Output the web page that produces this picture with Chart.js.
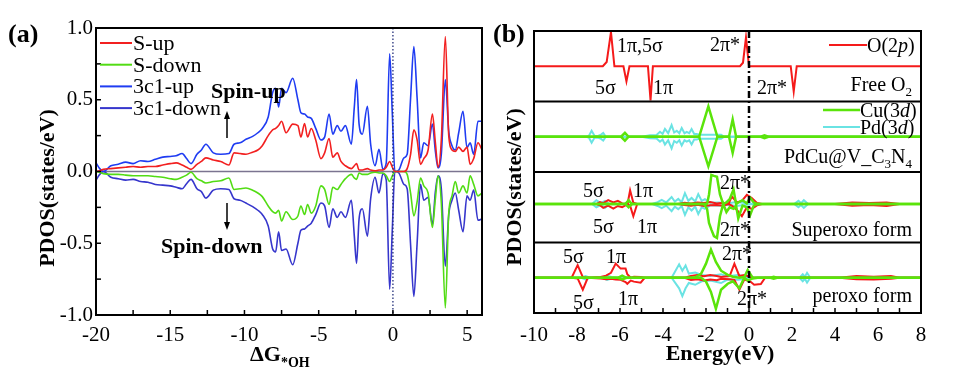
<!DOCTYPE html>
<html>
<head>
<meta charset="utf-8">
<script src="https://cdn.jsdelivr.net/npm/chart.js@4.4.0/dist/chart.umd.min.js"></script>
<style>
  body { margin: 0; background: #fff; }
  #wrap { position: relative; width: 958px; height: 367px; }
  canvas { position: absolute; top: 0; }
</style>
</head>
<body>
<div id="wrap">
  <canvas id="chartA" width="484" height="367" style="left:0"></canvas>
  <canvas id="chartB" width="478" height="367" style="left:480px"></canvas>
</div>
<script>
// ---------- panel (a): PDOS vs energy, four channels ----------
var gridA = [-20, -19.75, -19.5, -19, -18.5, -18, -17.5, -17, -16.5, -16,
  -15.5, -15, -14.6, -14.2, -13.9, -13.6, -13.2, -12.9, -12.6, -12.1,
  -11.6, -11.05, -10.7, -10.3, -9.9, -9.45, -9.1, -8.8, -8.4, -8.1,
  -7.9, -7.7, -7.5, -7.2, -6.75, -6.4, -6.2, -5.95, -5.75, -5.5,
  -5.2, -4.85, -4.6, -4.3, -4.05, -3.75, -3.5, -3.2, -2.8, -2.6,
  -2.45, -2.28, -2.06, -1.72, -1.5, -1.2, -0.94, -0.67, -0.45, -0.22,
  -0.04, 0.13, 0.4, 0.74, 0.96, 1.19, 1.41, 1.63, 1.86, 2.08,
  2.37, 2.66, 2.86, 3.04, 3.26, 3.53, 3.76, 3.98, 4.2, 4.43,
  4.72, 4.99, 5.2, 5.44, 5.73, 6];
var sUp = [0, 0.005, 0.015, 0.02, 0.025, 0.03, 0.035, 0.03, 0.035, 0.035,
  0.045, 0.055, 0.06, 0.045, 0.03, 0.015, 0.05, 0.07, 0.095, 0.08,
  0.07, 0.045, 0.13, 0.125, 0.12, 0.135, 0.15, 0.18, 0.25, 0.29,
  0.3, 0.32, 0.35, 0.27, 0.33, 0.32, 0.24, 0.335, 0.24, 0.3,
  0.22, 0.09, 0.13, 0.23, 0.1, 0.13, 0.07, 0.04, 0.02, 0.04,
  0.055, 0.01, 0.01, 0.02, 0.01, 0.005, 0.01, 0.01, 0.03, 0.07,
  0.03, 0, 0, 0, 0.02, 0.12, 0.29, 0.22, 0.05, 0.09,
  0.15, 0.4, 0.2, 0.03, 0.22, 0.94, 0.25, 0.15, 0.14, 0.17,
  0.14, 0.17, 0.05, 0.09, 0.2, 0.15];
var sDown = [0, -0.005, -0.015, -0.02, -0.02, -0.025, -0.03, -0.03, -0.03, -0.035,
  -0.04, -0.05, -0.055, -0.04, -0.025, -0.005, -0.05, -0.065, -0.08, -0.07,
  -0.065, -0.045, -0.125, -0.12, -0.115, -0.13, -0.15, -0.175, -0.24, -0.28,
  -0.29, -0.27, -0.345, -0.28, -0.335, -0.31, -0.24, -0.3, -0.23, -0.29,
  -0.24, -0.1, -0.125, -0.23, -0.11, -0.125, -0.09, -0.05, -0.02, -0.045,
  -0.055, -0.01, -0.02, -0.02, -0.01, -0.005, -0.01, -0.01, -0.03, -0.07,
  -0.03, 0, 0, 0, -0.02, -0.15, -0.31, -0.21, -0.045, -0.1,
  -0.15, -0.39, -0.19, -0.03, -0.22, -0.95, -0.29, -0.17, -0.07, -0.15,
  -0.1, -0.15, -0.03, -0.09, -0.17, -0.15];
var c1Up = [0.06, 0.02, 0, 0.04, 0.05, 0.065, 0.055, 0.075, 0.07, 0.085,
  0.1, 0.105, 0.11, 0.125, 0.09, 0.055, 0.12, 0.15, 0.19, 0.13,
  0.12, 0.125, 0.19, 0.2, 0.225, 0.245, 0.27, 0.3, 0.38, 0.55,
  0.58, 0.45, 0.58, 0.55, 0.65, 0.5, 0.41, 0.4, 0.38, 0.37,
  0.3, 0.22, 0.24, 0.4, 0.26, 0.32, 0.28, 0.32, 0.19, 0.45,
  0.64, 0.33, 0.26, 0.455, 0.19, 0.04, 0.155, 0.015, 0.06, 0.82,
  0.4, 0, 0.01, 0.095, 0.12, 0.51, 0.87, 0.51, 0.095, 0.2,
  0.18, 0.33, 0.14, 0.025, 0.12, 0.64, 0.28, 0.18, 0.15, 0.27,
  0.42, 0.165, 0.2, 0.12, 0.35, 0.35];
var c1Down = [-0.06, -0.02, 0, -0.04, -0.05, -0.06, -0.055, -0.07, -0.075, -0.09,
  -0.095, -0.1, -0.11, -0.12, -0.085, -0.055, -0.12, -0.14, -0.185, -0.13,
  -0.12, -0.125, -0.19, -0.2, -0.22, -0.245, -0.27, -0.3, -0.38, -0.54,
  -0.56, -0.42, -0.55, -0.54, -0.65, -0.5, -0.41, -0.4, -0.38, -0.36,
  -0.3, -0.22, -0.24, -0.39, -0.26, -0.32, -0.28, -0.32, -0.2, -0.45,
  -0.64, -0.33, -0.26, -0.45, -0.19, -0.04, -0.15, -0.015, -0.06, -0.82,
  -0.4, 0, -0.01, -0.09, -0.12, -0.51, -0.87, -0.5, -0.09, -0.2,
  -0.18, -0.37, -0.14, -0.03, -0.12, -0.66, -0.3, -0.2, -0.15, -0.27,
  -0.42, -0.17, -0.2, -0.13, -0.34, -0.33];
var labelsAx = [-20, -15, -10, -5, 0, 5];
var labelsAy = [-1, -0.5, 0, 0.5, 1];

// ---------- panel (b): O / Cu / Pd projected DOS, four stacked cases ----------
// free O2
var freeE = [-10, -6.8, -6.62, -6.42, -6.26, -5.84, -5.7, -5.56, -4.7, -4.58, -4.47, -0.42, -0.28, -0.14, 0.0, 1.94, 2.08, 2.22, 8];
var freeO = [0, 0, 0.12, 0.97, 0, 0, -0.43, 0, 0, -0.97, 0, 0, 0.1, 0.82, 0, 0, -0.72, 0, 0];
// PdCu@V_C3N4
var pureCuE = [-10, -5.95, -5.77, -5.6, -2.32, -1.89, -1.47, -0.93, -0.76, -0.6, 0.55, 0.72, 0.9, 8];
var pureCuUp = [0, 0, 0.11, 0, 0, 0.86, 0, 0, 0.49, 0, 0, 0.04, 0, 0];
var pureCuDn = [0, 0, -0.11, 0, 0, -0.84, 0, 0, -0.46, 0, 0, -0.04, 0, 0];
var purePdE = [-10, -7.6, -7.45, -7.32, -7.18, -7.0, -6.88, -6.78, -6.66, -5.0, -4.6, -4.3, -4.14, -4.02, -3.91, -3.76,
  -3.6, -3.48, -3.36, -3.24, -3.13, -3.0, -2.9, -2.78, -2.67, -2.55, -2.44, -2.3, -1.3, -1.15, 8];
var purePdUp = [0, 0, 0.02, 0.17, 0.02, 0.03, 0.06, 0.11, 0, 0, 0.04, 0.05, 0.14, 0.08, 0.22, 0.1,
  0.33, 0.12, 0.17, 0.1, 0.25, 0.1, 0.14, 0.1, 0.22, 0.08, 0.08, 0.06, 0.06, 0, 0];
var purePdDn = [0, 0, -0.02, -0.17, -0.02, -0.03, -0.06, -0.11, 0, 0, -0.04, -0.05, -0.14, -0.08, -0.22, -0.1,
  -0.33, -0.12, -0.17, -0.1, -0.25, -0.1, -0.14, -0.1, -0.22, -0.08, -0.08, -0.06, -0.06, 0, 0];
// superoxo form
var supCuE = [-10, -5.75, -5.6, -5.45, -2.1, -1.95, -1.86, -1.75, -1.63, -1.49, -1.35, -1.2, -1.05, -0.9, -0.72, -0.6, -0.5, -0.3, -0.1, 0.05, 0.22, 0.4, 8];
var supCuUp = [0, 0, 0.12, 0, 0, 0, 0.3, 0.91, 0.88, 0.85, 0.3, 0, 0.05, 0.15, 0.45, 0, 0.05, 0.12, 0.02, 0.2, 0.05, 0, 0];
var supCuDn = [0, 0, -0.1, 0, 0, -0.15, -0.59, -0.8, -1.0, -1.06, -0.38, 0, -0.25, -0.1, -0.15, -0.05, -0.45, -0.05, -0.1, -0.35, -0.05, 0, 0];
var supOE = [-10, -7.1, -6.93, -6.78, -6.55, -6.31, -6.1, -5.9, -5.65, -5.53, -5.38, -5.2, -3.3, -3.0, -2.7, -2.4, -2.1,
  -1.8, -1.5, -1.2, -0.95, -0.8, -0.57, -0.33, -0.1, 0.13, 0.37, 0.6, 4.0, 4.8, 5.6, 6.4, 7.0, 8];
var supOUp = [0, 0, 0.06, 0.03, 0.12, 0.05, 0.1, 0.02, 0, 0.43, 0.04, 0, 0, 0.04, 0.02, 0.05, 0.03,
  0.06, 0.02, 0.04, 0, 0.24, 0.05, 0.1, 0.29, 0.19, 0.03, 0, 0, 0.05, 0.03, 0.05, 0, 0];
var supODn = [0, 0, -0.04, -0.12, -0.05, -0.14, -0.06, -0.1, 0, -0.05, -0.38, 0, 0, -0.03, -0.05, -0.02, -0.06,
  -0.04, -0.03, -0.05, 0, -0.05, -0.18, -0.38, -0.1, -0.15, -0.04, 0, 0, -0.05, -0.03, -0.06, 0, 0];
var supPdE = [-10, -7.3, -7.1, -6.9, -6.7, -6.5, -5.8, -5.6, -5.4, -4.5, -4.25, -4.06, -3.85, -3.6, -3.45, -3.29, -3.13,
  -2.98, -2.82, -2.67, -2.5, -2.36, -2.2, -2.05, -1.8, -1.4, -1.0, -0.6, 0.2, 2.1, 2.3, 2.42, 2.55, 2.75, 8];
var supPdUp = [0, 0, 0.12, 0.03, 0.1, 0, 0, 0.08, 0, 0, 0.06, 0.13, 0.05, 0.22, 0.08, 0.16, 0.06,
  0.34, 0.1, 0.19, 0.08, 0.31, 0.1, 0.15, 0.04, 0.05, 0.02, 0.06, 0, 0, 0.1, 0.03, 0.12, 0, 0];
var supPdDn = [0, 0, -0.1, -0.03, -0.12, 0, 0, -0.06, 0, 0, -0.06, -0.13, -0.05, -0.22, -0.08, -0.16, -0.06,
  -0.34, -0.1, -0.2, -0.08, -0.31, -0.1, -0.15, -0.04, -0.05, -0.02, -0.06, 0, 0, -0.1, -0.03, -0.12, 0, 0];
// peroxo form
var perCuE = [-10, -6.1, -5.9, -5.7, -2.54, -2.23, -2.0, -1.77, -1.54, -1.3, -0.99, -0.75, -0.45, -0.22, -0.06, 0.17, 0.4, 1.0, 1.15, 1.3, 8];
var perCuUp = [0, 0, 0.06, 0, 0, 0.11, 0.4, 0.8, 0.45, 0.2, 0.08, 0.03, 0, 0.02, 0.22, 0, 0, 0, 0.03, 0, 0];
var perCuDn = [0, 0, -0.05, 0, 0, 0, -0.11, -0.4, -0.88, -0.34, -0.17, -0.1, -0.3, 0, -0.08, -0.02, 0, 0, -0.03, 0, 0];
var perOE = [-10, -8.25, -7.97, -7.73, -7.5, -6.9, -6.65, -6.42, -6.2, -5.97, -5.74, -5.66, -5.5, -5.35, -5.04, -4.85,
  -3.0, -2.7, -2.4, -2.1, -1.8, -1.5, -1.3, -0.9, -0.68, -0.45, -0.22, 0.05, 0.24, 0.55, 0.75, 4.2, 5.0, 5.8, 6.6, 7.0, 8];
var perOUp = [0, 0, 0.36, 0.02, 0, 0.02, 0.06, 0.14, 0.4, 0.26, 0.26, 0.1, 0, 0.03, 0.02, 0,
  0, 0.05, 0.08, 0.04, 0.08, 0.05, 0.02, 0.05, 0.4, 0.05, 0.08, 0.02, 0, 0, 0, 0, 0.05, 0.03, 0.05, 0, 0];
var perODn = [0, 0, -0.02, -0.34, 0, -0.02, -0.04, -0.03, -0.05, -0.06, -0.12, -0.17, -0.08, -0.11, -0.14, 0,
  0, -0.06, -0.04, -0.08, -0.05, -0.07, -0.03, -0.04, -0.06, -0.34, -0.05, -0.1, -0.2, -0.18, 0, 0, -0.04, -0.05, -0.03, 0, 0];
var perPdE = [-10, -7.8, -7.6, -7.4, -6.8, -6.6, -6.4, -6.0, -3.6, -3.25, -3.1, -2.95, -2.8, -2.5, -2.2, -1.8, -1.3, -1.0, -0.5, 0.1, 2.35, 2.5, 2.6, 2.7, 2.85, 8];
var perPdUp = [0, 0, 0.05, 0, 0, 0.06, 0.02, 0, 0, 0.38, 0.2, 0.35, 0.12, 0.15, 0.08, 0.05, 0.1, 0.04, 0.08, 0, 0, 0.1, 0.03, 0.14, 0, 0];
var perPdDn = [0, 0, -0.05, 0, 0, -0.06, -0.02, 0, 0, -0.3, -0.52, -0.3, -0.15, -0.2, -0.1, -0.08, -0.15, -0.05, -0.06, 0, 0, -0.1, -0.03, -0.14, 0, 0];
var labelsBx = [-10, -8, -6, -4, -2, 0, 2, 4, 6, 8];

var SERIF = '"Liberation Serif", "Times New Roman", serif';
var RED = '#f51a1a', GREEN = '#5ae40a', CYAN = '#6ae3e3';

function pts(xs, ys) {
  return xs.map(function (x, i) { return { x: x, y: ys[i] }; });
}

// text with sub/italic/bold pieces: segs = [[text, style], ...]
function richText(ctx, segs, x, y, align, size) {
  function fontOf(st) {
    var sub = st && st.indexOf('sub') >= 0;
    return (st && st.indexOf('it') >= 0 ? 'italic ' : '') + (st && st.indexOf('b') === 0 ? 'bold ' : '') +
      Math.round(sub ? size * 0.65 : size) + 'px ' + SERIF;
  }
  var w = 0;
  segs.forEach(function (s) { ctx.font = fontOf(s[1]); w += ctx.measureText(s[0]).width; });
  var cx = align === 'right' ? x - w : align === 'center' ? x - w / 2 : x;
  ctx.textAlign = 'left';
  ctx.textBaseline = 'alphabetic';
  segs.forEach(function (s) {
    ctx.font = fontOf(s[1]);
    var sub = s[1] && s[1].indexOf('sub') >= 0;
    ctx.fillText(s[0], cx, y + (sub ? size * 0.25 : 0));
    cx += ctx.measureText(s[0]).width;
  });
}

function seg(ctx, x1, y1, x2, y2) {
  ctx.beginPath(); ctx.moveTo(x1, y1); ctx.lineTo(x2, y2); ctx.stroke();
}

function arrow(ctx, x, y1, y2) {
  var dir = y2 < y1 ? -1 : 1;
  ctx.lineWidth = 1.5;
  seg(ctx, x, y1, x, y2 - dir * 4);
  ctx.beginPath();
  ctx.moveTo(x, y2); ctx.lineTo(x - 3, y2 - dir * 8); ctx.lineTo(x + 3, y2 - dir * 8); ctx.closePath();
  ctx.fill();
}

var frameA = {
  id: 'frameA',
  beforeDatasetsDraw: function (chart) {
    var ctx = chart.ctx, a = chart.chartArea, y = chart.scales.y;
    ctx.save();
    ctx.strokeStyle = '#7b7490';
    ctx.lineWidth = 1.5;
    seg(ctx, a.left, y.getPixelForValue(0), a.right, y.getPixelForValue(0));
    ctx.restore();
  },
  afterDraw: function (chart) {
    var ctx = chart.ctx, a = chart.chartArea, x = chart.scales.x, y = chart.scales.y;
    ctx.save();
    var x0 = x.getPixelForValue(0);
    ctx.strokeStyle = '#24307a';
    ctx.lineWidth = 1.3;
    ctx.setLineDash([1.5, 2]);
    seg(ctx, x0, a.top, x0, a.bottom);
    ctx.setLineDash([]);

    ctx.strokeStyle = '#000';
    ctx.lineWidth = 2;
    ctx.strokeRect(a.left, a.top, a.right - a.left, a.bottom - a.top);
    ctx.lineWidth = 1.5;
    x.ticks.forEach(function (t) { var p = x.getPixelForValue(t.value); seg(ctx, p, a.bottom, p, a.bottom - 5); });
    y.ticks.forEach(function (t) { var p = y.getPixelForValue(t.value); seg(ctx, a.left, p, a.left + 5, p); });

    // legend
    ctx.fillStyle = '#000';
    chart.data.datasets.forEach(function (ds, i) {
      var ly = 43 + i * 21.7;
      ctx.strokeStyle = ds.borderColor;
      ctx.lineWidth = 2;
      seg(ctx, 100, ly, 132, ly);
      richText(ctx, [[ds.label, '']], 133, ly + 7, 'left', 22);
    });

    // spin annotations
    richText(ctx, [['Spin-up', 'b']], 211, 98, 'left', 22);
    richText(ctx, [['Spin-down', 'b']], 161, 253, 'left', 22);
    ctx.strokeStyle = '#000';
    arrow(ctx, 227, 138, 111);
    arrow(ctx, 227, 203, 230);

    // titles
    richText(ctx, [['(a)', 'b']], 8, 42, 'left', 26);
    richText(ctx, [['ΔG', 'b'], ['*OH', 'bsub']], 250, 361, 'left', 22);
    ctx.save();
    ctx.translate(47, 188);
    ctx.rotate(-Math.PI / 2);
    richText(ctx, [['PDOS(states/eV)', 'b']], 0, 7, 'center', 22);
    ctx.restore();
    ctx.restore();
  }
};

new Chart(document.getElementById('chartA'), {
  type: 'line',
  data: {
    datasets: [
      { label: 'S-up', data: pts(gridA, sUp), borderColor: '#f22020' },
      { label: 'S-down', data: pts(gridA, sDown), borderColor: '#52dc14' },
      { label: '3c1-up', data: pts(gridA, c1Up), borderColor: '#1f3cf2' },
      { label: '3c1-down', data: pts(gridA, c1Down), borderColor: '#3636cc' }
    ]
  },
  options: {
    responsive: false,
    animation: false,
    elements: {
      point: { radius: 0 },
      line: { borderWidth: 1.6, cubicInterpolationMode: 'monotone' }
    },
    layout: { padding: { top: 28, right: 2, left: 0, bottom: 0 } },
    plugins: { legend: { display: false }, tooltip: { enabled: false } },
    scales: {
      x: {
        type: 'linear', min: -20, max: 6,
        grid: { display: false, drawTicks: false }, border: { display: false },
        ticks: {
          stepSize: 2.5, includeBounds: false, autoSkip: false, maxRotation: 0, padding: 8,
          color: '#000', font: { family: SERIF, size: 21 },
          callback: function (v) { return labelsAx.indexOf(v) >= 0 ? String(v) : ''; }
        },
        afterFit: function (s) { s.height = 52; }
      },
      y: {
        type: 'linear', min: -1, max: 1,
        grid: { display: false, drawTicks: false }, border: { display: false },
        ticks: {
          stepSize: 0.25, autoSkip: false, padding: 3,
          color: '#000', font: { family: SERIF, size: 21 },
          callback: function (v) { return labelsAy.indexOf(v) >= 0 ? v.toFixed(1) : ''; }
        },
        afterFit: function (s) { s.width = 96; }
      }
    }
  },
  plugins: [frameA]
});

// ---------- panel (b) ----------
var OFFB = 480;
var notesB = [
  [[['1π,5σ', '']], 617, 52, 'left'],
  [[['2π*', '']], 710, 51, 'left'],
  [[['5σ', '']], 595, 94, 'left'],
  [[['1π', '']], 653, 94, 'left'],
  [[['2π*', '']], 757, 94, 'left'],
  [[['Free O', ''], ['2', 'sub']], 912, 91, 'right'],
  [[['PdCu@V_C', ''], ['3', 'sub'], ['N', ''], ['4', 'sub']], 912, 163, 'right'],
  [[['5σ', '']], 583, 197, 'left'],
  [[['1π', '']], 633, 197, 'left'],
  [[['2π*', '']], 720, 189, 'left'],
  [[['5σ', '']], 593, 233, 'left'],
  [[['1π', '']], 637, 233, 'left'],
  [[['2π*', '']], 720, 236, 'left'],
  [[['Superoxo form', '']], 912, 236, 'right'],
  [[['5σ', '']], 563, 263, 'left'],
  [[['1π', '']], 606, 263, 'left'],
  [[['2π*', '']], 722, 260, 'left'],
  [[['5σ', '']], 573, 309, 'left'],
  [[['1π', '']], 618, 305, 'left'],
  [[['2π*', '']], 737, 305, 'left'],
  [[['peroxo form', '']], 912, 302, 'right']
];
var legendB = [
  [RED, 2, [['O(2', ''], ['p', 'it'], [')', '']], 829, 867, 45],
  [GREEN, 2.5, [['Cu(3', ''], ['d', 'it'], [')', '']], 823, 860, 110],
  [CYAN, 2, [['Pd(3', ''], ['d', 'it'], [')', '']], 823, 860, 127]
];

var frameB = {
  id: 'frameB',
  afterDraw: function (chart) {
    var ctx = chart.ctx, a = chart.chartArea, sc = chart.scales, x = sc.x;
    ctx.save();
    var x0 = x.getPixelForValue(0);
    ctx.strokeStyle = '#000';
    ctx.lineWidth = 2.5;
    ctx.setLineDash([7, 3, 2, 3]);
    seg(ctx, x0, a.top, x0, a.bottom);
    ctx.setLineDash([]);

    ctx.lineWidth = 2;
    ctx.strokeRect(a.left, a.top, a.right - a.left, a.bottom - a.top);
    ['yPd', 'ySup', 'yPer'].forEach(function (id) { seg(ctx, a.left, sc[id].top, a.right, sc[id].top); });
    ctx.lineWidth = 1.5;
    x.ticks.forEach(function (t) { var p = x.getPixelForValue(t.value); seg(ctx, p, a.bottom, p, a.bottom - 5); });

    ctx.fillStyle = '#000';
    notesB.forEach(function (n) { richText(ctx, n[0], n[1] - OFFB, n[2], n[3], 20); });
    legendB.forEach(function (l) {
      ctx.strokeStyle = l[0];
      ctx.lineWidth = l[1];
      seg(ctx, l[3] - OFFB, l[5], l[4] - OFFB, l[5]);
      richText(ctx, l[2], l[4] - OFFB, l[5] + 7, 'left', 20);
    });

    richText(ctx, [['(b)', 'b']], 493 - OFFB, 42, 'left', 26);
    richText(ctx, [['Energy(eV)', 'b']], 720 - OFFB, 360, 'center', 22);
    ctx.save();
    ctx.translate(514 - OFFB, 187);
    ctx.rotate(-Math.PI / 2);
    richText(ctx, [['PDOS(states/eV)', 'b']], 0, 7, 'center', 22);
    ctx.restore();
    ctx.restore();
  }
};

function panelAxis(min, max, weight) {
  return {
    type: 'linear', position: 'left', stack: 'pdos', stackWeight: 1, weight: weight,
    min: min, max: max,
    grid: { display: false, drawTicks: false }, border: { display: false },
    ticks: { display: false },
    afterFit: function (s) { s.width = 54; }
  };
}

function line(label, xs, ys, color, width, axis) {
  return { label: label, data: pts(xs, ys), borderColor: color, borderWidth: width, yAxisID: axis };
}

new Chart(document.getElementById('chartB'), {
  type: 'line',
  data: {
    datasets: [
      line('O(2p)', freeE, freeO, RED, 2, 'yO2'),
      line('Cu(3d)', pureCuE, pureCuUp, GREEN, 2.5, 'yPd'),
      line('Cu(3d) down', pureCuE, pureCuDn, GREEN, 2.5, 'yPd'),
      line('Cu(3d)', supCuE, supCuUp, GREEN, 2.5, 'ySup'),
      line('Cu(3d) down', supCuE, supCuDn, GREEN, 2.5, 'ySup'),
      line('Cu(3d)', perCuE, perCuUp, GREEN, 2.5, 'yPer'),
      line('Cu(3d) down', perCuE, perCuDn, GREEN, 2.5, 'yPer'),
      line('O(2p)', supOE, supOUp, RED, 2, 'ySup'),
      line('O(2p) down', supOE, supODn, RED, 2, 'ySup'),
      line('O(2p)', perOE, perOUp, RED, 2, 'yPer'),
      line('O(2p) down', perOE, perODn, RED, 2, 'yPer'),
      line('Pd(3d)', purePdE, purePdUp, CYAN, 2, 'yPd'),
      line('Pd(3d) down', purePdE, purePdDn, CYAN, 2, 'yPd'),
      line('Pd(3d)', supPdE, supPdUp, CYAN, 2, 'ySup'),
      line('Pd(3d) down', supPdE, supPdDn, CYAN, 2, 'ySup'),
      line('Pd(3d)', perPdE, perPdUp, CYAN, 2, 'yPer'),
      line('Pd(3d) down', perPdE, perPdDn, CYAN, 2, 'yPer')
    ]
  },
  options: {
    responsive: false,
    animation: false,
    elements: { point: { radius: 0 }, line: { tension: 0 } },
    layout: { padding: { top: 31, right: 37, left: 0, bottom: 0 } },
    plugins: { legend: { display: false }, tooltip: { enabled: false } },
    scales: {
      x: {
        type: 'linear', min: -10, max: 8,
        grid: { display: false, drawTicks: false }, border: { display: false },
        ticks: {
          stepSize: 1, autoSkip: false, maxRotation: 0, padding: 10,
          color: '#000', font: { family: SERIF, size: 21 },
          callback: function (v) { return labelsBx.indexOf(v) >= 0 ? String(v) : ''; }
        },
        afterFit: function (s) { s.height = 54; }
      },
      yO2: panelAxis(-1, 1, 4),
      yPd: panelAxis(-1, 1, 3),
      ySup: panelAxis(-1.2, 1, 2),
      yPer: panelAxis(-1, 1, 1)
    }
  },
  plugins: [frameB]
});
</script>
</body>
</html>
